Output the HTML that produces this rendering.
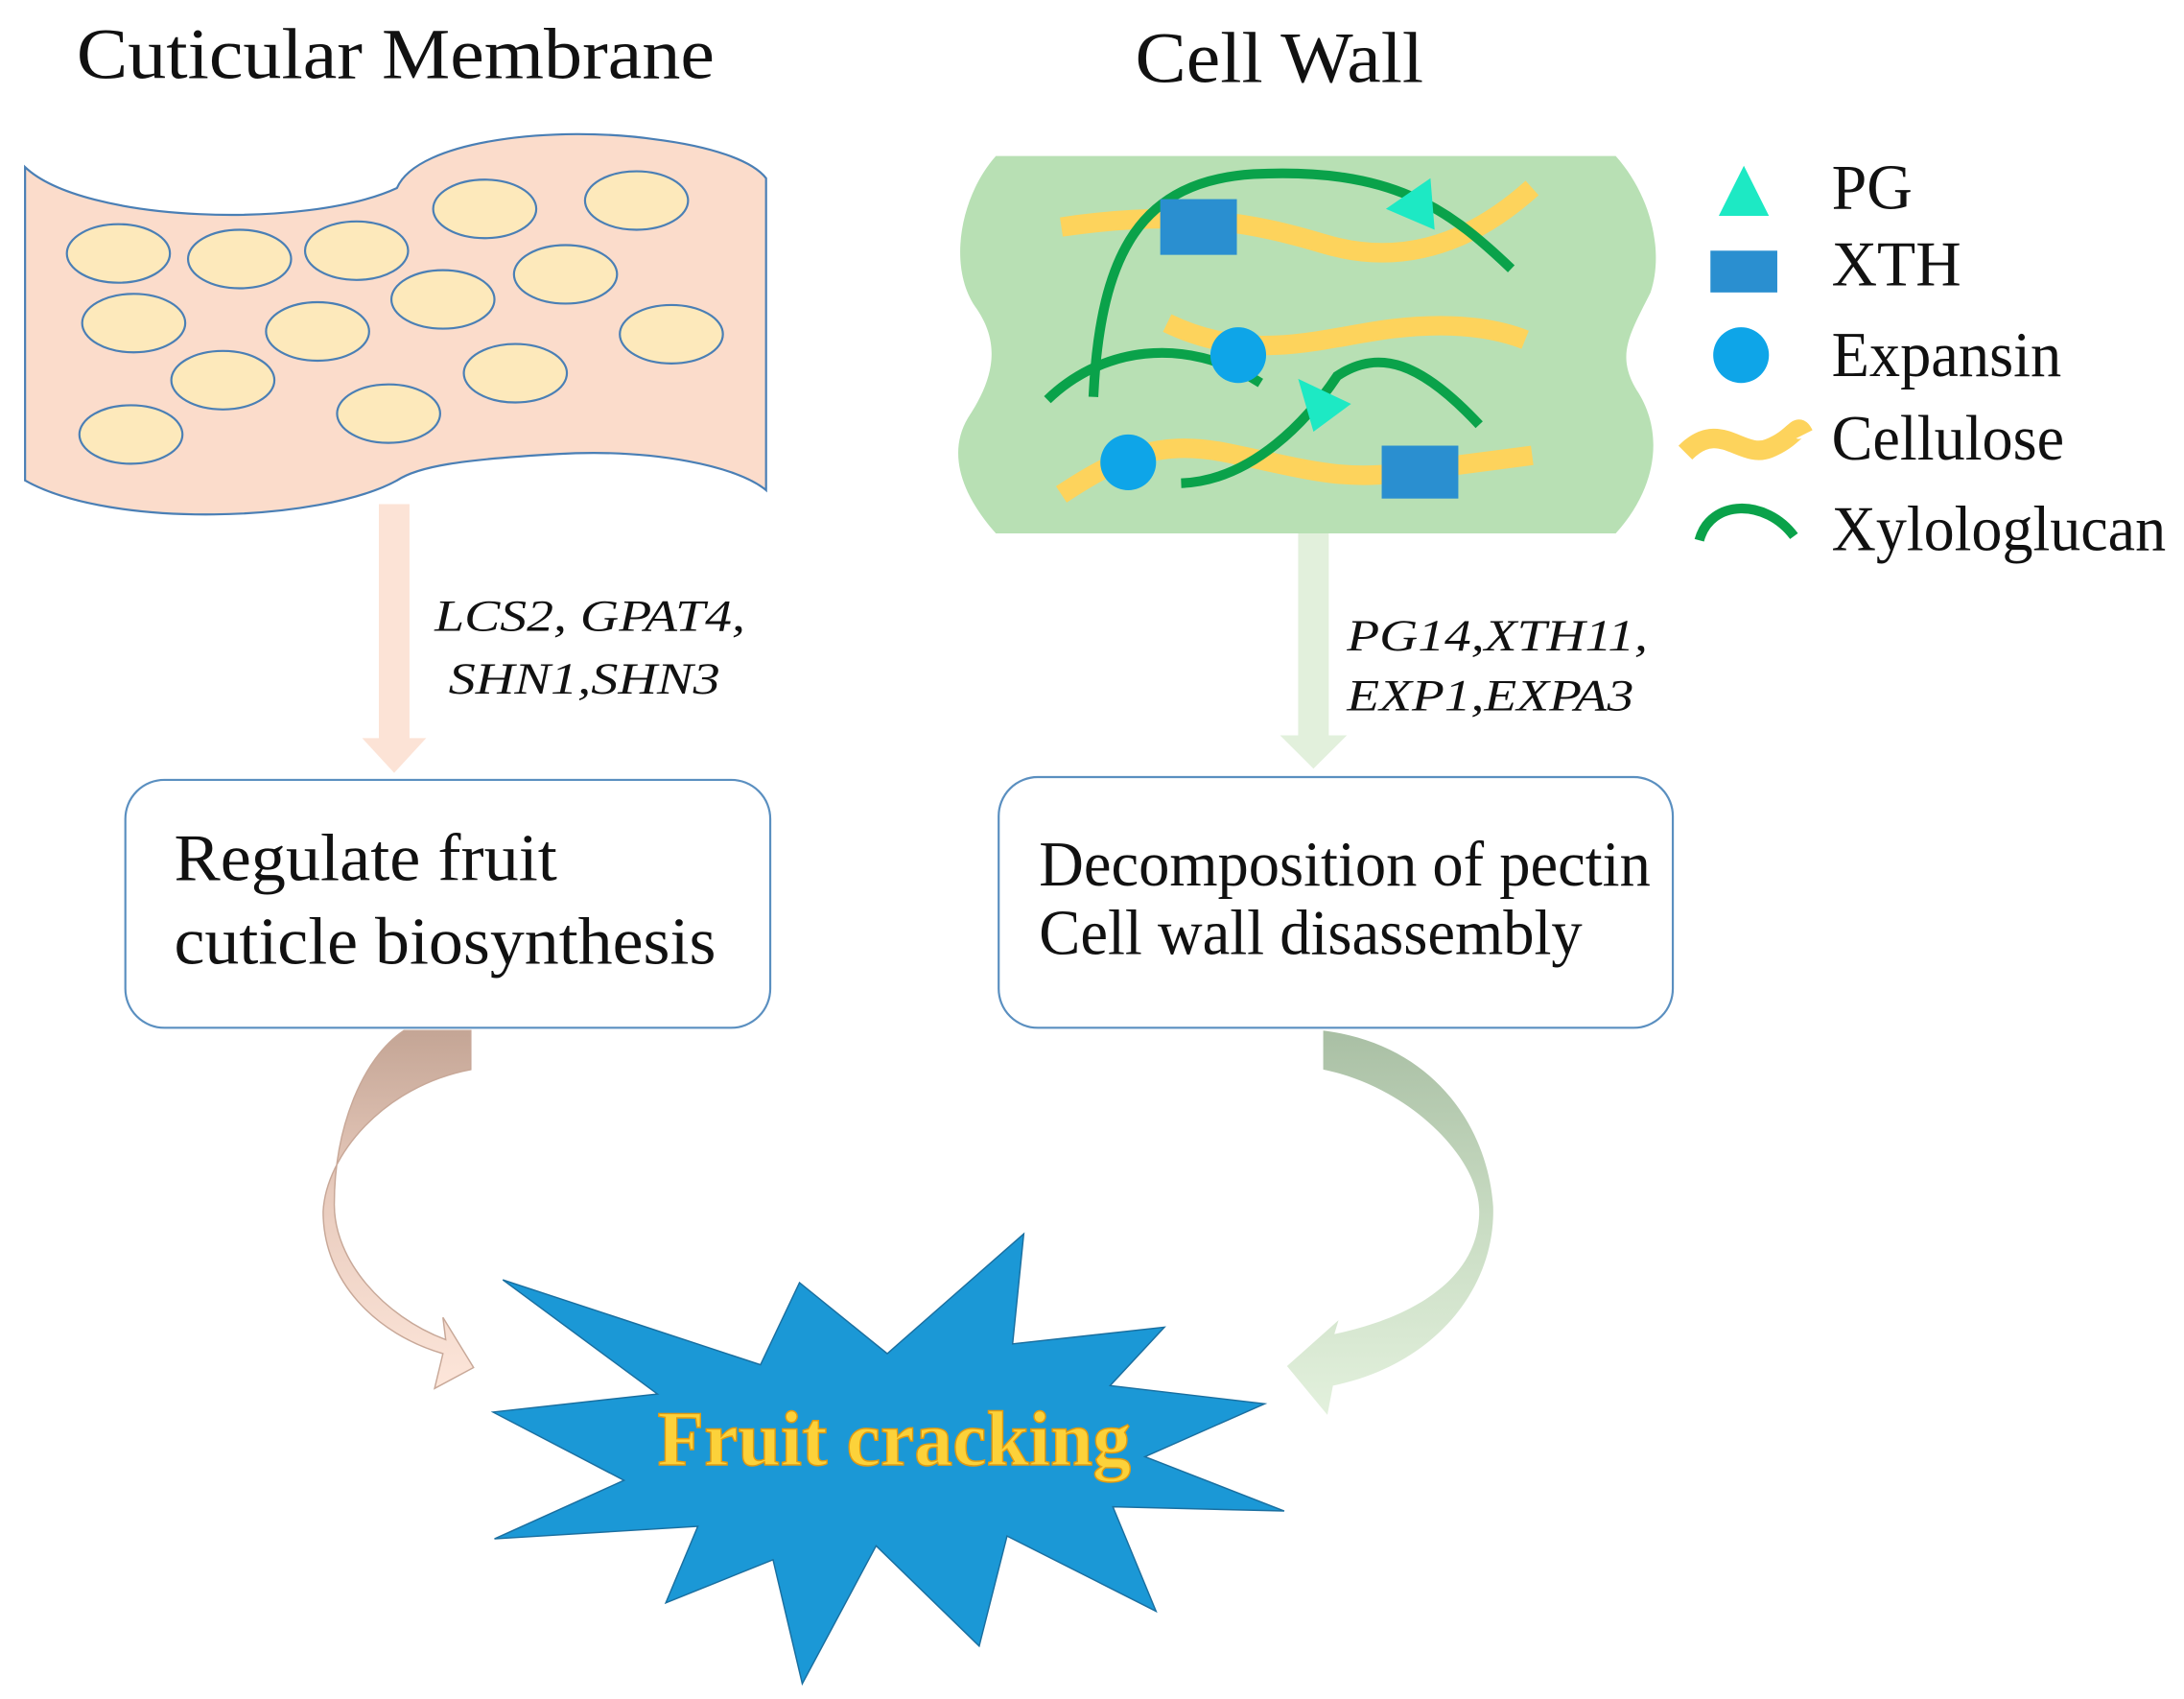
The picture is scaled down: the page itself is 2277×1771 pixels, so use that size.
<!DOCTYPE html>
<html><head><meta charset="utf-8"><style>
html,body{margin:0;padding:0;background:#fff;}
svg{display:block}
text{font-family:"Liberation Serif",serif;fill:#111}
</style></head><body>
<svg width="2277" height="1771" viewBox="0 0 1568 1220" preserveAspectRatio="none" xmlns="http://www.w3.org/2000/svg">
<defs>
<linearGradient id="gl" x1="0" y1="0" x2="0" y2="1"><stop offset="0" stop-color="#c4a595"/><stop offset="0.45" stop-color="#e8cbbd"/><stop offset="1" stop-color="#fde6da"/></linearGradient>
<linearGradient id="gr" x1="0" y1="0" x2="0" y2="1"><stop offset="0" stop-color="#a9bfa4"/><stop offset="0.5" stop-color="#c9dcc3"/><stop offset="1" stop-color="#e3f1dd"/></linearGradient>
</defs>
<text x="55" y="56" font-size="52" textLength="458" lengthAdjust="spacingAndGlyphs">Cuticular Membrane</text>
<text x="815" y="59" font-size="52" textLength="207" lengthAdjust="spacingAndGlyphs">Cell Wall</text>

<!-- membrane -->
<path d="M18,120 C60,160 220,165 285,135 C300,100 400,90 470,100 C510,105 540,115 550,128 L550,352 C530,335 470,322 400,326 C330,330 300,335 285,345 C230,375 80,380 18,345 Z" fill="#fbdccb" stroke="#4a7fb5" stroke-width="1.5"/>
<g fill="#fde9bb" stroke="#4a7fb5" stroke-width="1.5">
<ellipse cx="85" cy="182" rx="37" ry="21"/><ellipse cx="172" cy="186" rx="37" ry="21"/><ellipse cx="256" cy="180" rx="37" ry="21"/><ellipse cx="348" cy="150" rx="37" ry="21"/><ellipse cx="457" cy="144" rx="37" ry="21"/><ellipse cx="96" cy="232" rx="37" ry="21"/><ellipse cx="228" cy="238" rx="37" ry="21"/><ellipse cx="318" cy="215" rx="37" ry="21"/><ellipse cx="406" cy="197" rx="37" ry="21"/><ellipse cx="482" cy="240" rx="37" ry="21"/><ellipse cx="160" cy="273" rx="37" ry="21"/><ellipse cx="370" cy="268" rx="37" ry="21"/><ellipse cx="279" cy="297" rx="37" ry="21"/><ellipse cx="94" cy="312" rx="37" ry="21"/>
</g>
<!-- down arrows -->
<path d="M272,362 L294,362 L294,530 L306,530 L283,555 L260,530 L272,530 Z" fill="#fce3d6"/>
<path d="M932,383 L954,383 L954,528 L967,528 L943,552 L919,528 L932,528 Z" fill="#e2f0dc"/>
<g font-style="italic" font-size="32">
<text x="312" y="453" textLength="223" lengthAdjust="spacingAndGlyphs">LCS2, GPAT4,</text>
<text x="322" y="498" textLength="195" lengthAdjust="spacingAndGlyphs">SHN1,SHN3</text>
<text x="967" y="467" textLength="216" lengthAdjust="spacingAndGlyphs">PG14,XTH11,</text>
<text x="967" y="510" textLength="206" lengthAdjust="spacingAndGlyphs">EXP1,EXPA3</text>
</g>
<!-- boxes -->
<rect x="90" y="560" width="463" height="178" rx="28" fill="#fff" stroke="#5a8fc0" stroke-width="1.5"/>
<text x="125" y="632" font-size="48" textLength="275" lengthAdjust="spacingAndGlyphs">Regulate fruit</text>
<text x="125" y="692" font-size="48" textLength="389" lengthAdjust="spacingAndGlyphs">cuticle biosynthesis</text>
<rect x="717" y="558" width="484" height="180" rx="28" fill="#fff" stroke="#5a8fc0" stroke-width="1.5"/>
<text x="746" y="636" font-size="46" textLength="439" lengthAdjust="spacingAndGlyphs">Decomposition of pectin</text>
<text x="746" y="685" font-size="46" textLength="390" lengthAdjust="spacingAndGlyphs">Cell wall disassembly</text>

<!-- cell wall -->
<path d="M715,112 L1160,112 C1185,140 1195,180 1185,210 C1170,240 1160,255 1175,280 C1195,310 1190,350 1160,383 L715,383 C690,355 680,325 695,300 C715,270 718,245 700,220 C680,190 690,140 715,112 Z" fill="#b8e0b4"/>
<g fill="none" stroke="#fdd35c" stroke-width="14">
<path d="M762,163 C850,150 900,160 950,175 S1050,180 1100,135"/>
<path d="M838,232 C900,262 950,242 1000,236 S1080,238 1095,244"/>
<path d="M762,355 C800,330 830,315 880,325 S960,345 1000,340 L1100,327"/>
</g>
<g fill="none" stroke="#0aa24a" stroke-width="7">
<path d="M785,285 C790,180 820,130 900,125 C1000,120 1040,150 1085,193"/>
<path d="M752,287 C790,250 850,240 905,275"/>
<path d="M848,347 C900,345 940,300 960,270 C990,250 1020,260 1062,305"/>
</g>
<rect x="833" y="143" width="55" height="40" fill="#2a8fd0"/>
<rect x="992" y="320" width="55" height="38" fill="#2a8fd0"/>
<circle cx="889" cy="255" r="20" fill="#0ea5e8"/>
<circle cx="810" cy="332" r="20" fill="#0ea5e8"/>
<polygon points="995,150 1027,128 1030,165" fill="#1de9c4"/>
<polygon points="932,272 970,290 943,310" fill="#1de9c4"/>

<!-- legend -->
<polygon points="1234,155 1252,119 1270,155" fill="#1de9c4"/>
<rect x="1228" y="180" width="48" height="30" fill="#2a8fd0"/>
<circle cx="1250" cy="255" r="20" fill="#0ea5e8"/>
<path d="M1210,325 C1235,300 1250,330 1270,322 S1290,302 1295,312" fill="none" stroke="#fdd35c" stroke-width="14"/>
<path d="M1220,388 C1228,358 1268,358 1288,385" fill="none" stroke="#0aa24a" stroke-width="7"/>
<g font-size="46">
<text x="1315" y="150" textLength="58" lengthAdjust="spacingAndGlyphs">PG</text>
<text x="1315" y="205" textLength="93" lengthAdjust="spacingAndGlyphs">XTH</text>
<text x="1315" y="270" textLength="165" lengthAdjust="spacingAndGlyphs">Expansin</text>
<text x="1315" y="330" textLength="167" lengthAdjust="spacingAndGlyphs">Cellulose</text>
<text x="1315" y="395" textLength="240" lengthAdjust="spacingAndGlyphs">Xylologlucan</text>
</g>

<!-- curved arrows -->
<path d="M338,740 L338,768 C275,780 234,830 232,870 C232,920 270,958 318,972 L312,997 L340,982 L318,946 L320,962 C275,945 240,905 240,865 C240,810 260,760 290,740 Z" fill="url(#gl)" stroke="#c8a898" stroke-width="1"/>
<path d="M950,740 L950,768 C1010,780 1062,830 1062,870 C1062,915 1020,945 958,958 L961,948 L924,981 L953,1016 L957,995 C1030,980 1074,925 1072,866 C1068,810 1030,750 950,740 Z" fill="url(#gr)"/>

<!-- star -->
<polygon points="361,919 546,980 574,921 637,972 735,886 727,965 836,953 797,995 908,1008 822,1046 922,1085 799,1082 830,1157 723,1103 703,1182 629,1110 576,1209 555,1120 478,1151 501,1096 355,1105 448,1063 354,1014 472,1001" fill="#1b98d6" stroke="#1a6fa0" stroke-width="1"/>
<text x="472" y="1052" font-size="56" font-weight="bold" textLength="340" lengthAdjust="spacingAndGlyphs" style="fill:#fcd23a;stroke:#e39a10;stroke-width:1">Fruit cracking</text>
</svg>
</body></html>
